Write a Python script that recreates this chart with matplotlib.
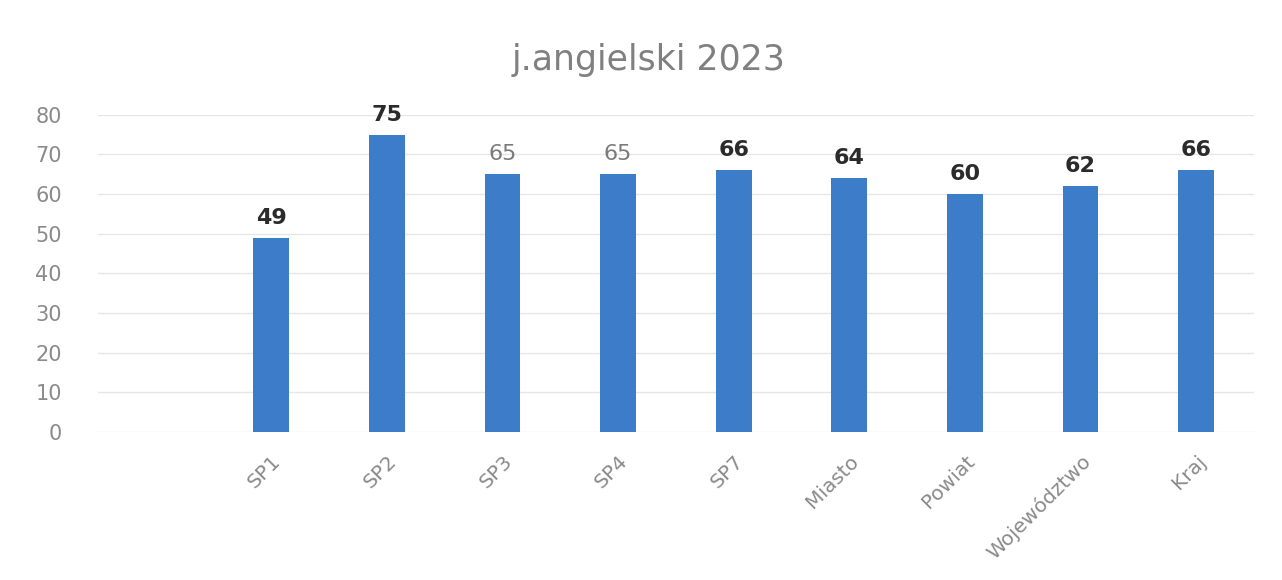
import numpy as np
import matplotlib
matplotlib.use("Agg")
import matplotlib.pyplot as plt

categories = ["", "SP1", "SP2", "SP3", "SP4", "SP7", "Miasto", "Powiat", "Województwo", "Kraj"]
values = [np.nan, 49, 75, 65, 65, 66, 64, 60, 62, 66]
label_colors = [None, "#2b2b2b", "#2b2b2b", "#7a7a7a", "#7a7a7a", "#2b2b2b", "#2b2b2b", "#2b2b2b", "#2b2b2b", "#2b2b2b"]
yticks = [0, 10, 20, 30, 40, 50, 60, 70, 80]
title = "j.angielski 2023"

plt.rcParams['font.family'] = ['DejaVu Sans']

fig = plt.figure(figsize=(12.82, 5.8), dpi=100)
ax = fig.add_axes([0.0764, 0.255, 0.9017, 0.547])

x = np.arange(len(categories))
ax.bar(x, values, width=0.31, color="#3d7cc9", zorder=3)
for xi, v, c in zip(x, values, label_colors):
    if not np.isnan(v):
        ax.text(xi, v + 2.5, f"{int(v)}", ha="center", va="bottom",
                fontsize=16, color=c, fontweight="bold" if c == "#2b2b2b" else "normal")

ax.set_xlim(-0.5, len(categories) - 0.5)
ax.set_ylim(0, 80)
ax.set_yticks(yticks)
ax.set_yticklabels([str(t) for t in yticks], fontsize=15, color="#8a8a8a")
ax.set_xticks(x)
ax.set_xticklabels(categories, rotation=45, ha="right", rotation_mode="anchor",
                   fontsize=14.5, color="#8a8a8a")
ax.tick_params(axis="both", length=0)
ax.tick_params(axis="x", pad=14)
ax.tick_params(axis="y", pad=26)
ax.yaxis.grid(True, color="#e6e6e6", linewidth=1, zorder=0)
for s in ax.spines.values():
    s.set_visible(False)

fig.text(0.506, 0.897, title, ha="center", va="center", fontsize=25, color="#808080")

fig.savefig("out.png", dpi=100, facecolor="white")
